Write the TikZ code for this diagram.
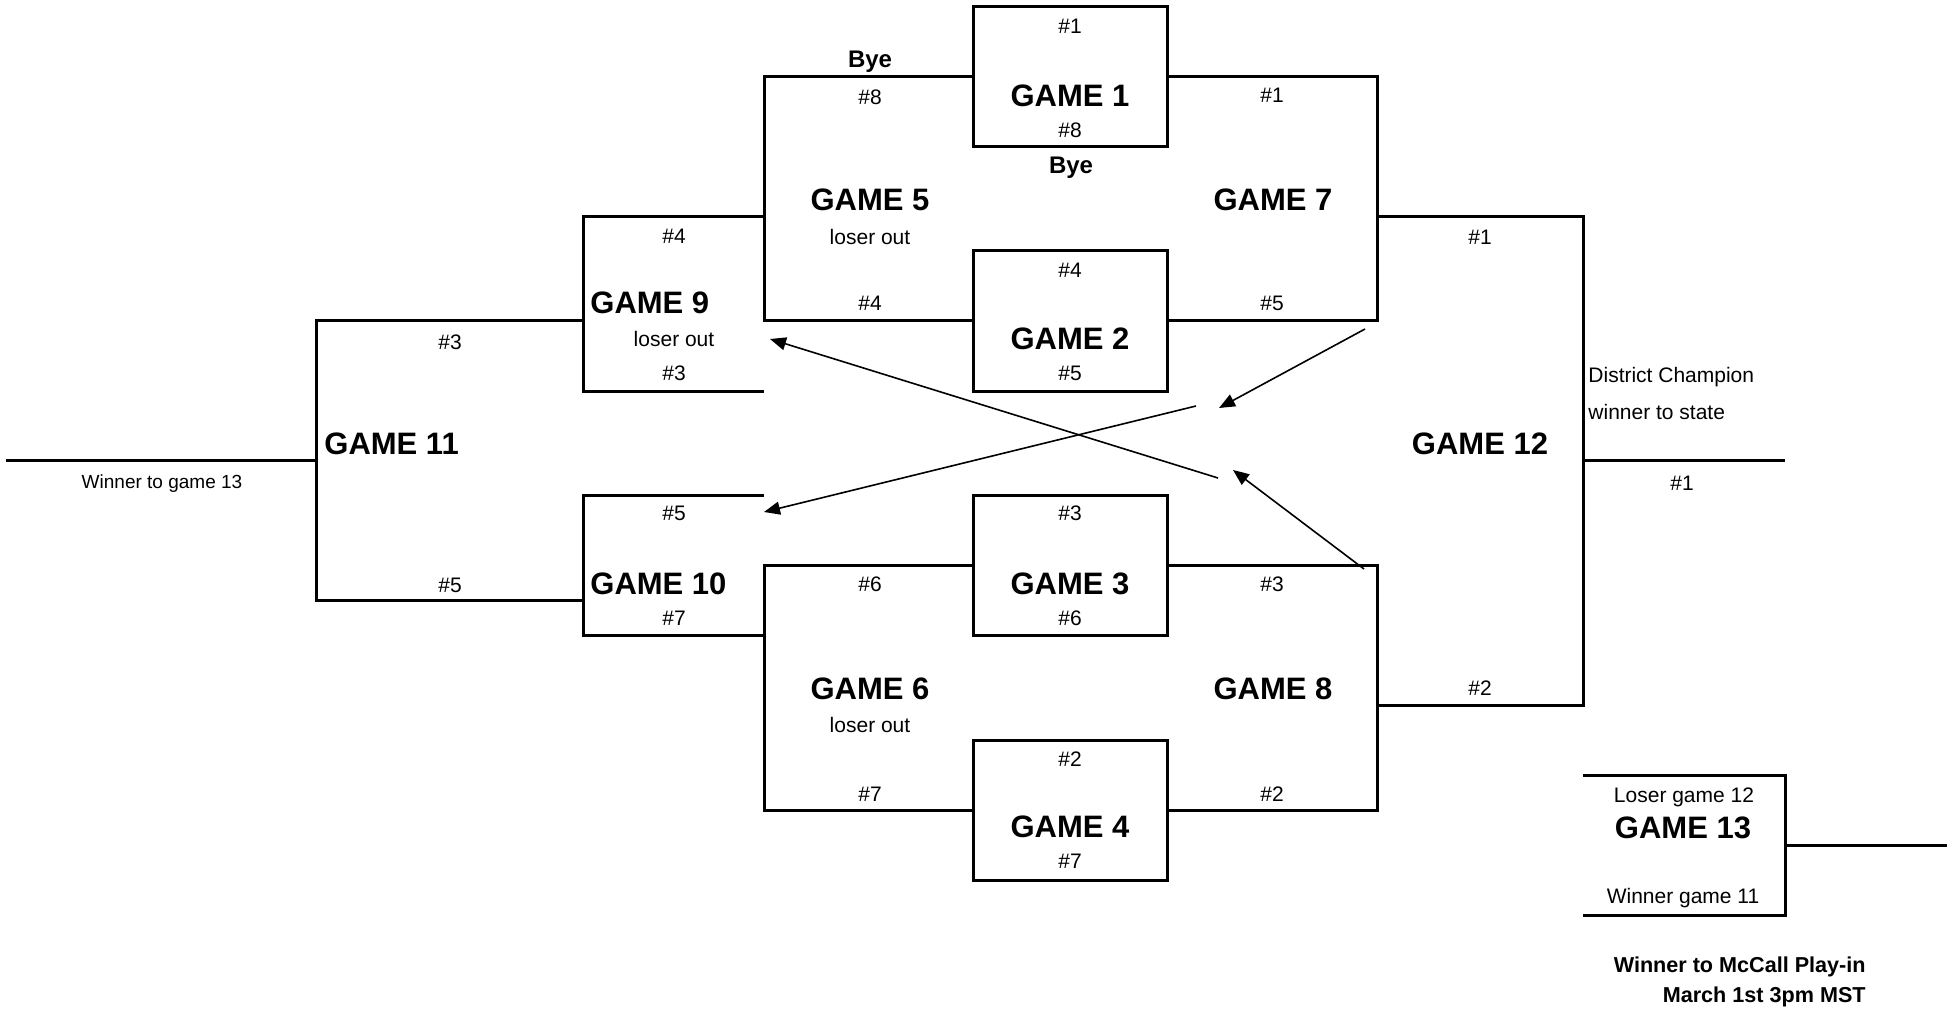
\documentclass[tikz,border=0pt]{standalone}
\usepackage{fontspec}
\setmainfont{Liberation Sans}
\usetikzlibrary{arrows.meta}
\begin{document}
\begin{tikzpicture}[x=0.5pt,y=-0.5pt,
  ln/.style={line width=1.5pt, line join=miter},
  gbox/.style={draw, line width=1.5pt, minimum width=97pt, minimum height=70pt, inner sep=0pt},
  arr/.style={line width=0.8pt, -{Triangle[length=8pt,width=6.5pt]}},
  sm/.style={font=\fontsize{10.5}{12}\selectfont, inner sep=0pt},
  smr/.style={font=\fontsize{9.5}{11}\selectfont, inner sep=0pt},
  gm/.style={font=\fontsize{15.5}{18}\selectfont\bfseries, inner sep=0pt},
  bye/.style={font=\fontsize{12}{14}\selectfont\bfseries, inner sep=0pt},
  note/.style={font=\fontsize{10.8}{14}\selectfont\bfseries, inner sep=0pt, align=right}]
\useasboundingbox (0,0) rectangle (1957,1010);
\fill[white] (0,0) rectangle (1957,1010);

% first-round boxes
\node[gbox] (g1) at (1070,77) {};
\node[gbox] (g2) at (1070,321) {};
\node[gbox] (g3) at (1070,565) {};
\node[gbox] (g4) at (1070,810) {};

% bracket corners
\coordinate (g5t) at (764,77);   \coordinate (g5b) at (764,321);
\coordinate (g7t) at (1377,77);  \coordinate (g7b) at (1377,321);
\coordinate (g7o) at (1377,217);
\coordinate (g6t) at (764,565);  \coordinate (g6b) at (764,810);
\coordinate (g8t) at (1377,565); \coordinate (g8b) at (1377,810);
\coordinate (g8o) at (1377,705);
\coordinate (g12t) at (1583,217); \coordinate (g12b) at (1583,705);
\coordinate (g12m) at (1583,460); \coordinate (g12e) at (1785,460);
\coordinate (g9a) at (764,217); \coordinate (g9b) at (583,217);
\coordinate (g9c) at (583,391); \coordinate (g9d) at (764,391);
\coordinate (g10a) at (764,495); \coordinate (g10b) at (583,495);
\coordinate (g10c) at (583,635); \coordinate (g10d) at (764,635);
\coordinate (g11a) at (583,321); \coordinate (g11b) at (316,321);
\coordinate (g11c) at (316,600); \coordinate (g11d) at (583,600);
\coordinate (g11m) at (316,460); \coordinate (g11e) at (6,460);
\coordinate (g13a) at (1583,775); \coordinate (g13b) at (1785,775);
\coordinate (g13c) at (1785,915); \coordinate (g13d) at (1583,915);
\coordinate (g13m) at (1785,845); \coordinate (g13e) at (1947,845);

\draw[ln] (g1.west) -- (g5t) -- (g5b) -- (g2.west);
\draw[ln] (g1.east) -- (g7t) -- (g7b) -- (g2.east);
\draw[ln] (g3.west) -- (g6t) -- (g6b) -- (g4.west);
\draw[ln] (g3.east) -- (g8t) -- (g8b) -- (g4.east);
\draw[ln] (g7o) -- (g12t) -- (g12b) -- (g8o);
\draw[ln] (g12m) -- (g12e);
\draw[ln] (g9a) -- (g9b) -- (g9c) -- (g9d);
\draw[ln] (g10a) -- (g10b) -- (g10c) -- (g10d);
\draw[ln] (g11a) -- (g11b) -- (g11c) -- (g11d);
\draw[ln] (g11m) -- (g11e);
\draw[ln] (g13a) -- (g13b) -- (g13c) -- (g13d);
\draw[ln] (g13m) -- (g13e);

% arrows
\coordinate (a1s) at (1365,329); \coordinate (a1e) at (1219,408);
\coordinate (a2s) at (1196,406); \coordinate (a2e) at (764,512);
\coordinate (a3s) at (1364,569); \coordinate (a3e) at (1233,470);
\coordinate (a4s) at (1218,478); \coordinate (a4e) at (770,339);
\draw[arr] (a1s) -- (a1e);
\draw[arr] (a2s) -- (a2e);
\draw[arr] (a3s) -- (a3e);
\draw[arr] (a4s) -- (a4e);

% texts game 1 / 2
\node[sm] (t1a) at (1070,26) {\#1};
\node[gm] (t1) at (1070,96) {GAME 1};
\node[sm] (t1b) at (1070,130) {\#8};
\node[bye] (bye2) at (1071,168) {Bye};
\node[sm] (t2a) at (1070,270) {\#4};
\node[gm] (t2) at (1070,339) {GAME 2};
\node[sm] (t2b) at (1070,373) {\#5};
% game 5
\node[bye] (bye1) at (870,62) {Bye};
\node[sm] (t5a) at (870,97) {\#8};
\node[gm] (t5) at (870,200) {GAME 5};
\node[sm] (t5l) at (870,237) {loser out};
\node[sm] (t5b) at (870,303) {\#4};
% game 7
\node[sm] (t7a) at (1272,95) {\#1};
\node[gm] (t7) at (1273,200) {GAME 7};
\node[sm] (t7b) at (1272,303) {\#5};
% game 9
\node[sm] (t9a) at (674,236) {\#4};
\node[gm,anchor=west] (t9) at (590,303) {GAME 9};
\node[sm] (t9l) at (674,339) {loser out};
\node[sm] (t9b) at (674,373) {\#3};
% game 11
\node[sm] (t11a) at (450,342) {\#3};
\node[gm,anchor=west] (t11) at (324,444) {GAME 11};
\node[smr] (t11w) at (162,484) {Winner to game 13};
\node[sm] (t11b) at (450,585) {\#5};
% game 10
\node[sm] (t10a) at (674,513) {\#5};
\node[gm,anchor=west] (t10) at (590,584) {GAME 10};
\node[sm] (t10b) at (674,618) {\#7};
% game 3 / 4
\node[sm] (t3a) at (1070,513) {\#3};
\node[gm] (t3) at (1070,584) {GAME 3};
\node[sm] (t3b) at (1070,618) {\#6};
\node[sm] (t4a) at (1070,759) {\#2};
\node[gm] (t4) at (1070,827) {GAME 4};
\node[sm] (t4b) at (1070,861) {\#7};
% game 6
\node[sm] (t6a) at (870,584) {\#6};
\node[gm] (t6) at (870,689) {GAME 6};
\node[sm] (t6l) at (870,725) {loser out};
\node[sm] (t6b) at (870,794) {\#7};
% game 8
\node[sm] (t8a) at (1272,584) {\#3};
\node[gm] (t8) at (1273,689) {GAME 8};
\node[sm] (t8b) at (1272,794) {\#2};
% game 12
\node[sm] (t12a) at (1480,237) {\#1};
\node[gm] (t12) at (1480,444) {GAME 12};
\node[sm] (t12b) at (1480,688) {\#2};
\node[sm,anchor=west] (t12c) at (1588,377) {District Champion};
\node[sm,anchor=west] (t12d) at (1588,412) {winner to state};
\node[sm] (t12e) at (1682,483) {\#1};
% game 13
\node[sm] (t13a) at (1684,797) {Loser game 12};
\node[gm] (t13) at (1683,828) {GAME 13};
\node[sm] (t13b) at (1683,898) {Winner game 11};
\node[note,anchor=east] (n1) at (1866,967) {Winner to McCall Play-in};
\node[note,anchor=east] (n2) at (1866,997) {March 1st 3pm MST};
\end{tikzpicture}
\end{document}
